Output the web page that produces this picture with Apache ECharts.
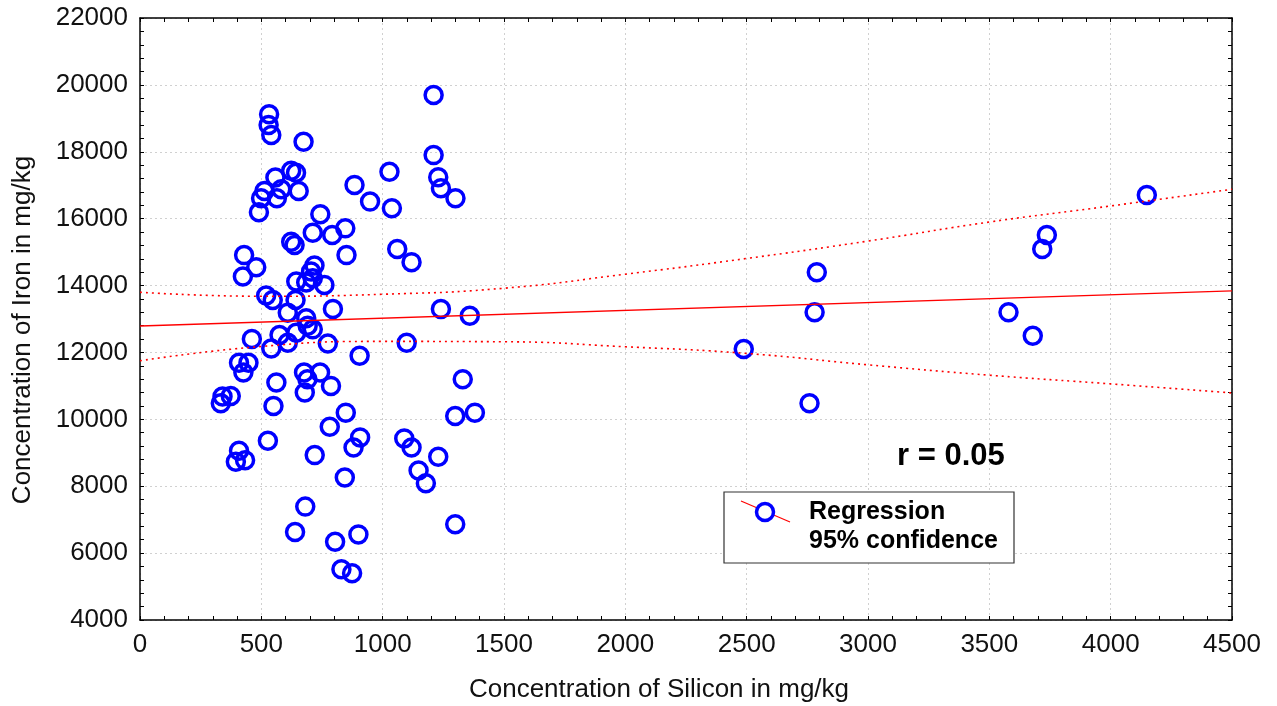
<!DOCTYPE html>
<html>
<head>
<meta charset="utf-8">
<title>Iron vs Silicon</title>
<script src="https://cdn.jsdelivr.net/npm/echarts@6/dist/echarts.min.js"></script>
<style>
  html, body { margin: 0; padding: 0; background: #fff; }
  #chart { width: 1277px; height: 706px; }
</style>
</head>
<body>
<div id="chart"></div>
<script>
// Samples: silicon (x) and iron (y), mg/kg
const siX = [
  1210, 532, 530, 541, 674, 1210, 1028, 623, 643, 558, 1229, 1240, 884, 1300, 948, 1038,
  513, 499, 564, 654, 490, 582, 743, 712, 792, 846, 851, 623, 637, 1060, 1119,
  429, 479, 424, 719, 705, 685, 644, 712, 760, 520, 547, 641, 609, 795, 685, 691,
  712, 644, 575, 461, 609, 541, 774, 1240, 1359, 905, 1099,
  408, 447, 426, 562, 676, 742, 690, 787, 679, 333, 340, 374, 550, 1330, 1299, 1380,
  848, 782, 907, 880, 1089, 1119, 1229, 1148, 1178, 527, 408, 395, 433, 720, 844,
  681, 639, 804, 900, 1299, 830, 874,
  2488, 2759, 2780, 2789, 3579, 3679, 3718, 3737, 4149
];
const feY = [
  19700, 19120, 18800, 18500, 18300, 17900, 17400, 17430, 17370, 17230, 17240, 16910, 17010, 16610, 16510, 16310,
  16830, 16610, 16610, 16830, 16190, 16880, 16130, 15580, 15510, 15710, 14910, 15310, 15210, 15090, 14700,
  14910, 14550, 14270, 14600, 14420, 14090, 14120, 14220, 14020, 13700, 13570, 13570, 13190, 13300, 13020, 12800,
  12690, 12590, 12520, 12400, 12290, 12120, 12270, 13300, 13100, 11900, 12290,
  11690, 11690, 11400, 11100, 11400, 11400, 11200, 11000, 10800, 10480, 10680, 10700, 10400, 11200, 10100, 10200,
  10200, 9780, 9460, 9160, 9430, 9160, 8880, 8470, 8090, 9360, 9060, 8730, 8780, 8930, 8260,
  7390, 6630, 6340, 6560, 6860, 5520, 5400,
  12100, 10480, 13200, 14400, 13200, 12500, 15090, 15510, 16710
];

// Regression line ends
const regX = [0, 4500];
const regY = [12790, 13840];

// 95% confidence band, read at each 500 mg/kg
const bandX = [0, 500, 1000, 1500, 2000, 2500, 3000, 3500, 4000, 4500];
const upperY = [13800, 13680, 13740, 13920, 14340, 14810, 15330, 15900, 16380, 16880];
const lowerY = [11750, 12180, 12330, 12320, 12170, 11970, 11630, 11320, 11060, 10790];

const FONT = 'Liberation Sans, Arial, sans-serif';

function pairs(xs, ys) {
  return xs.map((x, i) => [x, ys[i]]);
}

var chart = echarts.init(document.getElementById('chart'));

// shared look for the frame axes (ticks inside on all four sides)
function frameAxis(extra) {
  return Object.assign({
    type: 'value',
    axisLine: { show: true, onZero: false, lineStyle: { color: '#000', width: 1.5 } },
    axisTick: { show: true, inside: true, length: 4, lineStyle: { color: '#000' } },
    minorTick: { show: true, splitNumber: 5, length: 4, lineStyle: { color: '#000' } },
    splitLine: { show: false },
    axisLabel: { show: false }
  }, extra);
}

// plain numbers, no thousands separator
var plain = function (v) { return String(v); };

var option = {
  animation: false,
  backgroundColor: '#fff',
  grid: { left: 140, right: 45, top: 18, bottom: 86, outerBoundsMode: 'none', containLabel: false },
  xAxis: [
    frameAxis({
      position: 'bottom', min: 0, max: 4500, interval: 500,
      splitLine: { show: true, lineStyle: { color: '#d0d0d0', type: [2, 3], width: 1 } },
      axisLabel: { show: true, color: '#111', fontSize: 26, fontFamily: FONT, margin: 12, formatter: plain },
      name: 'Concentration of Silicon in mg/kg',
      nameLocation: 'middle', nameGap: 57,
      nameTextStyle: { color: '#111', fontSize: 26, fontFamily: FONT, padding: [0, 54, 0, 0] }
    }),
    frameAxis({ position: 'top', min: 0, max: 4500, interval: 500 })
  ],
  yAxis: [
    frameAxis({
      position: 'left', min: 4000, max: 22000, interval: 2000,
      splitLine: { show: true, lineStyle: { color: '#d0d0d0', type: [2, 3], width: 1 } },
      axisLabel: { show: true, color: '#111', fontSize: 26, fontFamily: FONT, margin: 12, formatter: plain },
      name: 'Concentration of Iron in mg/kg',
      nameLocation: 'middle', nameGap: 104,
      nameTextStyle: { color: '#111', fontSize: 26, fontFamily: FONT, padding: [0, 22, 0, 0] }
    }),
    frameAxis({ position: 'right', min: 4000, max: 22000, interval: 2000 })
  ],
  series: [
    {
      type: 'scatter',
      data: pairs(siX, feY),
      symbol: 'circle',
      symbolSize: 17,
      itemStyle: { color: 'rgba(0,0,0,0)', borderColor: '#0000ff', borderWidth: 3.5, opacity: 1 },
      silent: true,
      z: 2
    },
    {
      type: 'line',
      data: pairs(regX, regY),
      showSymbol: false,
      lineStyle: { color: '#ff0000', width: 1.3 },
      silent: true,
      z: 3
    },
    {
      type: 'line',
      data: pairs(bandX, upperY),
      smooth: true,
      showSymbol: false,
      lineStyle: { color: '#ff0000', width: 1.6, type: [2, 4] },
      silent: true,
      z: 3
    },
    {
      type: 'line',
      data: pairs(bandX, lowerY),
      smooth: true,
      showSymbol: false,
      lineStyle: { color: '#ff0000', width: 1.6, type: [2, 4] },
      silent: true,
      z: 3
    }
  ],
  graphic: [
    // r value
    {
      type: 'text', left: 897, top: 441, z: 10,
      style: { text: 'r = 0.05', font: 'bold 31px ' + FONT, fill: '#000' }
    },
    // legend box
    {
      type: 'rect', shape: { x: 724, y: 492, width: 290, height: 71 }, z: 10,
      style: { fill: '#fff', stroke: '#333', lineWidth: 1.2 }
    },
    {
      type: 'line', shape: { x1: 741, y1: 501, x2: 790, y2: 522 }, z: 11,
      style: { stroke: '#ff0000', lineWidth: 1.2 }
    },
    {
      type: 'circle', shape: { cx: 765, cy: 512, r: 8.5 }, z: 12,
      style: { fill: '#fff', stroke: '#0000ff', lineWidth: 3.5 }
    },
    {
      type: 'text', left: 809, top: 500, z: 12,
      style: { text: 'Regression', font: 'bold 25px ' + FONT, fill: '#000' }
    },
    {
      type: 'text', left: 809, top: 529, z: 12,
      style: { text: '95% confidence', font: 'bold 25px ' + FONT, fill: '#000' }
    }
  ]
};

chart.setOption(option);

window.onresize = function () {
  chart.resize();
};
</script>
</body>
</html>
